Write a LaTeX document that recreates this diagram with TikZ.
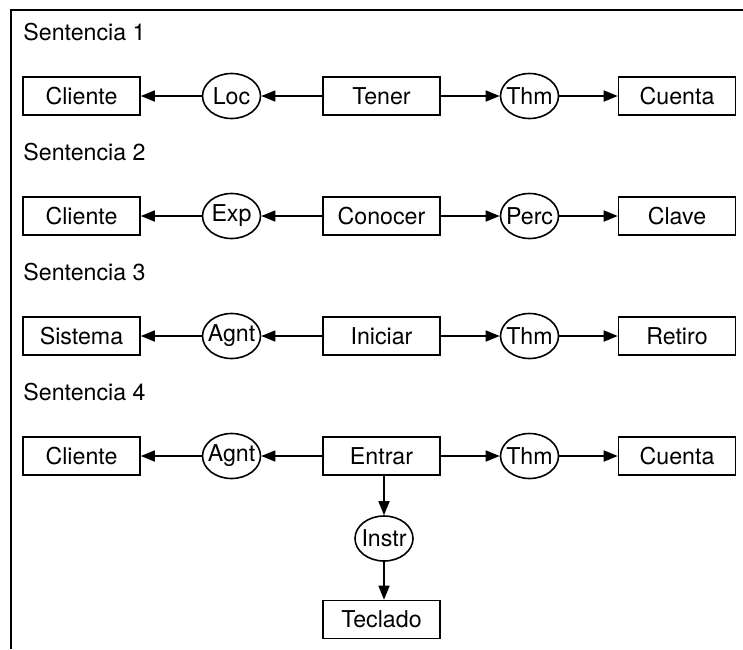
\documentclass[tikz,border=0pt]{standalone}
\usepackage{fontspec}
\setmainfont{TeX Gyre Heros}
\usetikzlibrary{arrows.meta,shapes.geometric}

\tikzset{
  concept/.style={draw,line width=0.8pt,minimum width=58.5pt,minimum height=19pt,inner sep=0pt},
  relation/.style={draw,ellipse,line width=0.8pt,minimum width=29pt,minimum height=22.5pt,inner xsep=-3pt,inner ysep=0pt},
  link/.style={line width=0.8pt,-{Triangle[length=7pt,width=5.5pt]}}
}

\begin{document}
\begin{tikzpicture}[x=0.5pt,y=-0.5pt,font=\fontsize{11.6}{13}\selectfont]
\useasboundingbox (0,0) rectangle (743,649);

% open frame
\draw[line width=1pt] (11,649) -- (11,10) -- (743,10);

% one row of the conceptual graph per sentence
\foreach \i/\lft/\rl/\mid/\rr/\rgt in {1/Cliente/Loc/Tener/Thm/Cuenta,
    2/Cliente/Exp/Conocer/Perc/Clave,
    3/Sistema/Agnt/Iniciar/Thm/Retiro,
    4/Cliente/Agnt/Entrar/Thm/Cuenta} {
    \pgfmathsetmacro{\yy}{96+120*(\i-1)}
    \node[anchor=west,inner sep=0pt] (s\i) at (23,\yy-64) {Sentencia \i};
    \node[concept] (l\i) at (81.5,\yy) {\lft};
    \node[relation] (rl\i) at (231.5,\yy) {\rl};
    \node[concept] (m\i) at (381.5,\yy) {\mid};
    \node[relation] (rr\i) at (529.5,\yy) {\rr};
    \node[concept] (r\i) at (677,\yy) {\rgt};
    \draw[link] (m\i) -- (rl\i);
    \draw[link] (rl\i) -- (l\i);
    \draw[link] (m\i) -- (rr\i);
    \draw[link] (rr\i) -- (r\i);
}

% instrument branch of sentence 4
\node[relation] (instr) at (384,538.5) {Instr};
\node[concept] (teclado) at (381.5,619.5) {Teclado};
\draw[link] (m4.south -| instr) -- (instr);
\draw[link] (instr) -- (teclado.north -| instr);

\end{tikzpicture}
\end{document}
